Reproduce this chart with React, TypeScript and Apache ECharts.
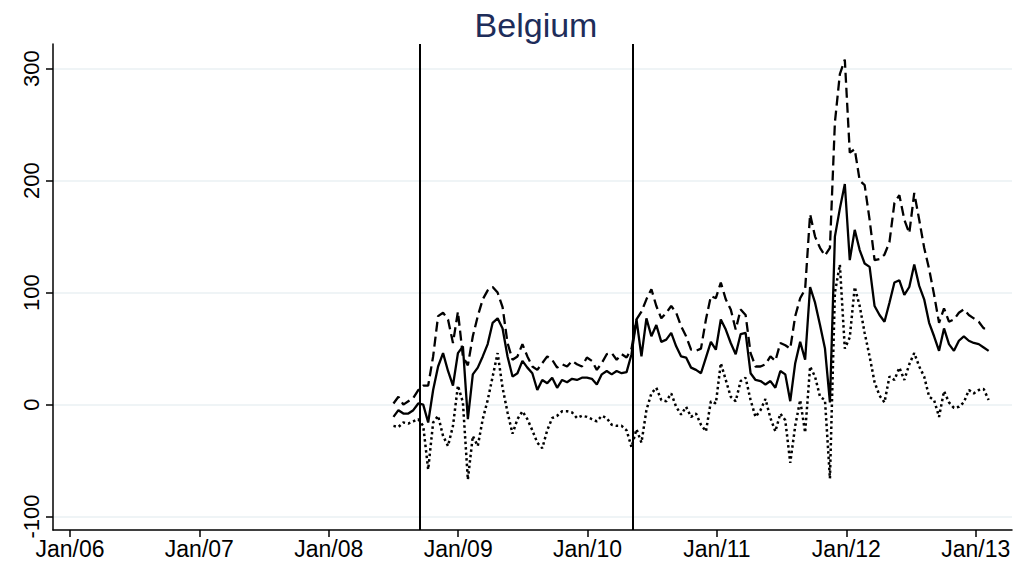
import React, { useEffect, useRef } from "react";
import * as echarts from "echarts";

// biweekly observations starting mid-2008 (decimal years)
const START_YEAR = 2008.5;
const STEP_YEARS = 14 / 365.25;

const solidSeries = [
  -11, -5, -8, -8, -5, 1, 0, -16, 13, 34, 46, 30, 17, 46, 52, -13, 27, 33, 43, 54, 73, 77,
  68, 43, 25, 28, 39, 33, 28, 13, 22, 19, 24, 15, 22, 20, 23, 22, 24, 24, 23, 18, 27, 30, 27, 30, 28, 29, 45,
  76, 43, 77, 61, 71, 56, 58, 64, 52, 43, 42, 33, 31, 28, 42, 56, 49, 76, 67, 55, 45,
  63, 64, 28, 22, 21, 18, 21, 15, 30, 27, 3, 37, 56, 40, 105, 91, 71, 50, 2,
  150, 175, 197, 129, 156, 138, 126, 123, 88, 80, 74, 91, 109, 111, 98, 105, 125, 106, 94, 73, 61, 48, 68, 54, 48, 57, 61, 57, 55, 54, 51, 48,
];

const dashedSeries = [
  1, 7, 0, 3, 6, 13, 17, 17, 43, 79, 82, 76, 55, 83, 43, 35, 61, 79, 94, 102, 105, 100,
  87, 55, 40, 43, 54, 43, 34, 31, 37, 43, 40, 33, 36, 34, 39, 36, 34, 42, 39, 31, 37, 45, 46, 40, 45, 42, 50,
  76, 83, 94, 103, 88, 77, 82, 88, 82, 70, 61, 49, 48, 50, 76, 97, 95, 109, 94, 85, 67,
  85, 80, 46, 34, 34, 36, 43, 39, 55, 53, 50, 79, 95, 103, 170, 150, 140, 133, 140,
  252, 295, 308, 225, 228, 200, 196, 165, 129, 130, 134, 145, 180, 187, 165, 153, 189, 165, 140, 121, 98, 73, 86, 74, 76, 82, 85, 80, 77, 74, 68, 68,
];

const dottedSeries = [
  -19, -20, -16, -17, -15, -13, -19, -58, -16, -10, -28, -37, -19, 17, 2, -67, -28, -37, -13, 4, 25, 46,
  15, -7, -26, -13, -6, -13, -23, -34, -39, -23, -12, -10, -6, -6, -7, -12, -10, -11, -13, -15, -10, -12, -18, -19, -19, -23, -38,
  -22, -34, -5, 10, 15, 4, 3, 10, -2, -9, -2, -11, -8, -18, -24, 3, 1, 37, 22, 7, 3,
  21, 24, 4, -11, -5, 5, -12, -24, -8, -14, -52, -19, 4, -25, 34, 25, 7, 4, -66,
  100, 125, 50, 60, 105, 88, 64, 43, 20, 8, 2, 25, 22, 33, 22, 36, 46, 34, 25, 7, 4, -11, 12, 2, -3, -2, 2, 13, 10, 13, 14, 4,
];

// event lines: mid-Sep 2008 and early May 2010
const eventLines = [2008.705, 2010.351];

const xTickYears = [2006, 2007, 2008, 2009, 2010, 2011, 2012, 2013];
const xTickLabels = ["Jan/06", "Jan/07", "Jan/08", "Jan/09", "Jan/10", "Jan/11", "Jan/12", "Jan/13"];
const yTicks = [-100, 0, 100, 200, 300];

const FONT = "'Liberation Sans', Arial, sans-serif";

function toPairs(values: number[]) {
  return values.map((v, i) => [START_YEAR + i * STEP_YEARS, v]);
}

export default function App() {
  const ref = useRef<HTMLDivElement>(null);

  useEffect(() => {
    if (!ref.current) return;
    const chart = echarts.init(ref.current, undefined, { renderer: "svg" });
    const lineBase = { type: "line", showSymbol: false, symbol: "none", silent: true };
    chart.setOption({
      animation: false,
      backgroundColor: "#ffffff",
      title: {
        text: "Belgium",
        left: 531,
        textAlign: "center",
        top: 3,
        textStyle: { fontFamily: FONT, fontSize: 34, fontWeight: "normal", color: "#1e2d5a" },
      },
      grid: { left: 53, right: 10, top: 44, bottom: 41, outerBoundsMode: "none", containLabel: false },
      xAxis: {
        type: "value",
        min: 2005.869,
        max: 2013.28,
        axisLine: { show: true, onZero: false, lineStyle: { color: "#000", width: 1.5 } },
        axisTick: { show: true, length: 7, customValues: xTickYears, lineStyle: { color: "#000", width: 1.5 } },
        axisLabel: {
          customValues: xTickYears,
          formatter: (v: number) => {
            const idx = xTickYears.indexOf(Math.round(v));
            return idx >= 0 ? xTickLabels[idx] : "";
          },
          fontFamily: FONT,
          fontSize: 23,
          color: "#000",
          margin: 7,
        },
        splitLine: { show: false },
      },
      yAxis: {
        type: "value",
        min: -112,
        max: 322,
        axisLine: { show: true, onZero: false, lineStyle: { color: "#000", width: 1.5 } },
        axisTick: { show: true, length: 7, customValues: yTicks, lineStyle: { color: "#000", width: 1.5 } },
        axisLabel: {
          customValues: yTicks,
          rotate: 90,
          fontFamily: FONT,
          fontSize: 22,
          color: "#000",
          margin: 11,
        },
        splitLine: { show: true, customValues: yTicks, lineStyle: { color: "#eaf0f3", width: 1.5 } },
      },
      series: [
        {
          ...lineBase,
          name: "solid",
          data: toPairs(solidSeries),
          lineStyle: { color: "#000", width: 2.3, type: "solid" },
          z: 3,
          markLine: {
            silent: true,
            symbol: "none",
            label: { show: false },
            lineStyle: { color: "#000", width: 2, type: "solid" },
            data: eventLines.map((x) => ({ xAxis: x })),
          },
        },
        {
          ...lineBase,
          name: "dashed",
          data: toPairs(dashedSeries),
          lineStyle: { color: "#000", width: 2.3, type: [10, 5] },
          z: 2,
        },
        {
          ...lineBase,
          name: "dotted",
          data: toPairs(dottedSeries),
          lineStyle: { color: "#000", width: 2.5, type: [2.5, 3] },
          z: 2,
        },
      ],
    });
    return () => chart.dispose();
  }, []);

  return (
    <div
      ref={ref}
      style={{ position: "fixed", left: 0, top: 0, width: 1022, height: 571, background: "#fff" }}
    />
  );
}
